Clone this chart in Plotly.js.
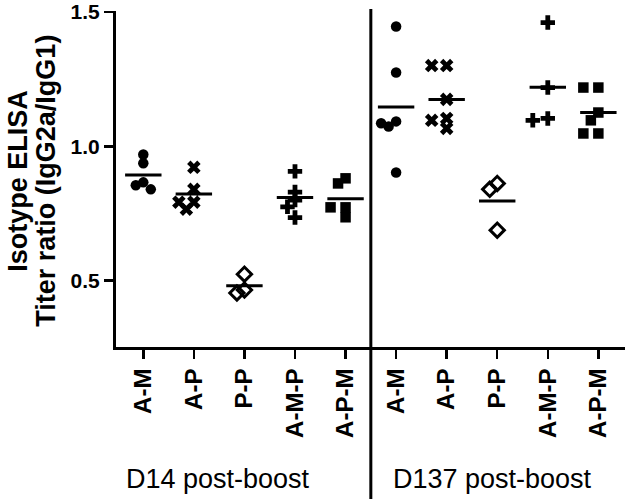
<!DOCTYPE html>
<html><head><meta charset="utf-8">
<script src="https://cdn.plot.ly/plotly-3.0.1.min.js"></script>
<style>html,body{margin:0;padding:0;background:#fff}</style>
</head><body><div id="chart" style="width:625px;height:499px"></div>
<script>
// ---- data ----
const categories = ['A-M','A-P','P-P','A-M-P','A-P-M','A-M','A-P','P-P','A-M-P','A-P-M'];
const timepoints = ['D14 post-boost','D137 post-boost'];
const d14_AM  = [0.970,0.937,0.866,0.855,0.840];
const d14_AP  = [0.922,0.840,0.792,0.792,0.766];
const d14_PP  = [0.524,0.465,0.454];
const d14_AMP = [0.907,0.830,0.800,0.775,0.735];
const d14_APM = [0.881,0.862,0.773,0.773,0.736];
const d137_AM  = [1.446,1.275,1.093,1.086,1.074,0.903];
const d137_AP  = [1.301,1.301,1.175,1.104,1.097,1.067];
const d137_PP  = [0.862,0.840,0.688];
const d137_AMP = [1.461,1.219,1.104,1.097];
const d137_APM = [1.219,1.219,1.126,1.097,1.048,1.048];
const groups = [d14_AM,d14_AP,d14_PP,d14_AMP,d14_APM,d137_AM,d137_AP,d137_PP,d137_AMP,d137_APM];
const symbols = ['circle','x','diamond-open','cross','square'];

// ---- layout geometry ----
const W=625,H=499, M={l:116,r:0,t:11,b:152};
const xr=[-0.54,9.527], yr=[0.253,1.504];
const pxX=(W-M.l-M.r)/(xr[1]-xr[0]);
const pxY=(H-M.t-M.b)/(yr[1]-yr[0]);
const FONT='Liberation Sans, Arial, sans-serif';

function swarm(vals, step, minDist){
  const placed=[]; const offs=new Array(vals.length);
  const order=vals.map((v,i)=>i).sort((a,b)=>vals[b]-vals[a]);
  for(const i of order){
    const y=vals[i]*pxY;
    for(const k of [0,-1,1,-2,2,-3,3]){
      const x=k*step;
      if(placed.every(p=>Math.hypot(p.x-x,p.y-y)>=minDist)){placed.push({x,y});offs[i]=x/pxX;break;}
    }
  }
  return offs;
}

const traces=[];
const meanX=[], meanY=[];
groups.forEach((vals,gi)=>{
  const sym=symbols[gi%5];
  const offs=swarm(vals,7.5,8);
  const isOpen=sym==='diamond-open';
  traces.push({
    type:'scatter',mode:'markers',
    x:vals.map((v,i)=>gi+offs[i]), y:vals,
    marker:{symbol:sym,color:'#000',size:sym==='circle'?10.5:(sym==='square'?10.5:(isOpen?11:12)),
      line:{color:'#000',width:isOpen?3:0}},
    hoverinfo:'y',showlegend:false,cliponaxis:false
  });
  const m=vals.reduce((a,b)=>a+b,0)/vals.length;
  meanX.push(gi-0.36,gi+0.36,null); meanY.push(m,m,null);
});
traces.push({type:'scatter',mode:'lines',x:meanX,y:meanY,line:{color:'#000',width:3},hoverinfo:'skip',showlegend:false});

const divX=(4.5-xr[0])/(xr[1]-xr[0]);
const plotH=H-M.t-M.b;

const layout={
  width:W,height:H,margin:M,paper_bgcolor:'#fff',plot_bgcolor:'#fff',
  font:{family:FONT,color:'#000'},
  xaxis:{range:xr,tickmode:'array',tickvals:categories.map((c,i)=>i),ticktext:categories,
    tickangle:-90,tickfont:{family:FONT,size:24,weight:'bold'},
    showline:true,linecolor:'#000',linewidth:3,ticks:'outside',ticklen:9,tickwidth:2.5,tickcolor:'#000',
    showgrid:false,zeroline:false,fixedrange:true},
  yaxis:{range:yr,tickmode:'array',tickvals:[0.5,1.0,1.5],ticktext:['0.5','1.0','1.5'],
    tickfont:{family:FONT,size:21,weight:'bold'},
    showline:true,linecolor:'#000',linewidth:3,ticks:'outside',ticklen:9,tickwidth:2.5,tickcolor:'#000',
    showgrid:false,zeroline:false,fixedrange:true},
  shapes:[{type:'line',xref:'paper',yref:'paper',x0:divX,x1:divX,
    y0:(M.b-H)/plotH-0.01,y1:(plotH+2)/plotH,line:{color:'#000',width:3}}],
  annotations:[
    {text:'Isotype ELISA',xref:'paper',yref:'paper',x:(18-M.l)/(W-M.l-M.r),y:0.495,
      textangle:-90,showarrow:false,xanchor:'center',yanchor:'middle',font:{family:FONT,size:27,weight:'bold'}},
    {text:'Titer ratio (IgG2a/IgG1)',xref:'paper',yref:'paper',x:(46-M.l)/(W-M.l-M.r),y:0.495,
      textangle:-90,showarrow:false,xanchor:'center',yanchor:'middle',font:{family:FONT,size:27,weight:'bold'}},
    {text:timepoints[0],xref:'x',yref:'paper',x:1.48,y:(M.t+plotH-479)/plotH,showarrow:false,
      xanchor:'center',yanchor:'middle',font:{family:FONT,size:27}},
    {text:timepoints[1],xref:'x',yref:'paper',x:6.9,y:(M.t+plotH-479)/plotH,showarrow:false,
      xanchor:'center',yanchor:'middle',font:{family:FONT,size:27}}
  ]
};
Plotly.newPlot('chart',traces,layout,{displayModeBar:false,staticPlot:true});
</script></body></html>
